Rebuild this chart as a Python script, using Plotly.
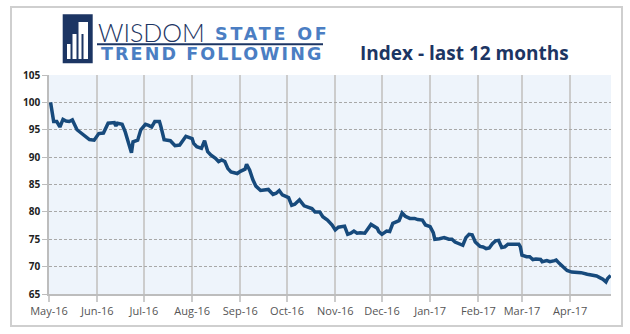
import plotly.graph_objects as go

dates = [
    "2016-05-02", "2016-05-03", "2016-05-04", "2016-05-06", "2016-05-07", "2016-05-08",
    "2016-05-10", "2016-05-12", "2016-05-14", "2016-05-16", "2016-05-19", "2016-05-22",
    "2016-05-24", "2016-05-27", "2016-05-30", "2016-06-02", "2016-06-05", "2016-06-08",
    "2016-06-12", "2016-06-13", "2016-06-14", "2016-06-17", "2016-06-19", "2016-06-21",
    "2016-06-23", "2016-06-24", "2016-06-27", "2016-06-29", "2016-07-02", "2016-07-04",
    "2016-07-06", "2016-07-08", "2016-07-11", "2016-07-12", "2016-07-14", "2016-07-18",
    "2016-07-20", "2016-07-21", "2016-07-24", "2016-07-28", "2016-08-01", "2016-08-02",
    "2016-08-04", "2016-08-07", "2016-08-09", "2016-08-11", "2016-08-13", "2016-08-16",
    "2016-08-18", "2016-08-20", "2016-08-22", "2016-08-24", "2016-08-26", "2016-08-30",
    "2016-09-01", "2016-09-04", "2016-09-05", "2016-09-07", "2016-09-09", "2016-09-11",
    "2016-09-14", "2016-09-17", "2016-09-19", "2016-09-22", "2016-09-24", "2016-09-26",
    "2016-09-28", "2016-10-02", "2016-10-04", "2016-10-06", "2016-10-09", "2016-10-12",
    "2016-10-15", "2016-10-17", "2016-10-19", "2016-10-22", "2016-10-24", "2016-10-27",
    "2016-10-30", "2016-11-01", "2016-11-03", "2016-11-07", "2016-11-09", "2016-11-11",
    "2016-11-13", "2016-11-15", "2016-11-17", "2016-11-20", "2016-11-24", "2016-11-28",
    "2016-11-29", "2016-12-01", "2016-12-04", "2016-12-06", "2016-12-08", "2016-12-10",
    "2016-12-12", "2016-12-14", "2016-12-16", "2016-12-19", "2016-12-22", "2016-12-24",
    "2016-12-27", "2016-12-29", "2017-01-01", "2017-01-03", "2017-01-04", "2017-01-07",
    "2017-01-10", "2017-01-13", "2017-01-15", "2017-01-17", "2017-01-20", "2017-01-22",
    "2017-01-24", "2017-01-26", "2017-01-28", "2017-01-30", "2017-02-02", "2017-02-04",
    "2017-02-06", "2017-02-08", "2017-02-10", "2017-02-12", "2017-02-14", "2017-02-16",
    "2017-02-18", "2017-02-20", "2017-02-23", "2017-02-27", "2017-02-28", "2017-03-01",
    "2017-03-04", "2017-03-06", "2017-03-08", "2017-03-10", "2017-03-13", "2017-03-14",
    "2017-03-17", "2017-03-19", "2017-03-22", "2017-03-23", "2017-03-25", "2017-03-28",
    "2017-03-30", "2017-04-02", "2017-04-05", "2017-04-08", "2017-04-12", "2017-04-15",
    "2017-04-18", "2017-04-20", "2017-04-22", "2017-04-24", "2017-04-25", "2017-04-27",
]

index_values = [
    100.0, 98.0, 96.5, 96.5, 96.0, 95.5,
    96.9, 96.6, 96.5, 96.8, 95.0, 94.3,
    94.0, 93.2, 93.1, 94.3, 94.4, 96.2,
    96.3, 95.7, 96.2, 96.0, 94.6, 92.5,
    90.8, 92.8, 93.1, 95.0, 96.0, 95.8,
    95.5, 96.5, 96.5, 95.5, 93.2, 93.0,
    92.5, 92.1, 92.2, 93.8, 93.4, 92.5,
    91.9, 91.6, 93.0, 91.0, 90.4, 89.8,
    89.2, 89.5, 89.2, 87.9, 87.3, 87.0,
    87.4, 87.8, 88.7, 87.6, 85.9, 84.7,
    83.9, 84.0, 84.1, 83.2, 83.4, 83.9,
    83.1, 82.6, 81.2, 81.4, 82.2, 81.1,
    80.8, 80.6, 80.0, 80.0, 79.1, 78.5,
    77.6, 76.7, 77.2, 77.4, 75.9, 76.1,
    76.5, 76.1, 76.2, 76.1, 77.7, 77.0,
    76.4, 75.9, 76.5, 76.4, 77.9, 78.1,
    78.4, 79.8, 79.2, 78.8, 78.8, 78.6,
    78.5, 77.6, 77.3, 76.2, 75.0, 75.1,
    75.3, 75.0, 75.0, 74.5, 74.2, 73.9,
    75.3, 75.9, 75.8, 74.5, 73.7, 73.6,
    73.3, 73.4, 74.2, 74.7, 74.8, 73.5,
    73.6, 74.1, 74.1, 74.1, 73.6, 72.1,
    71.8, 71.8, 71.3, 71.4, 71.3, 70.9,
    71.1, 70.9, 71.1, 71.2, 70.6, 69.9,
    69.3, 69.0, 68.9, 68.9, 68.6, 68.4,
    68.3, 68.0, 67.7, 67.2, 67.8, 68.4,
]

title_text = "Index - last 12 months"
y_ticks = [65, 70, 75, 80, 85, 90, 95, 100, 105]

W, H = 630, 334
ML, MR, MT, MB = 49, 19, 75, 40
PW, PH = W - ML - MR, H - MT - MB


def px(x):
    return (x - ML) / PW


def py(y):
    return (H - MB - y) / PH


NAVY = "#1c3563"
LIGHTBLUE = "#4b7ec3"

fig = go.Figure()
fig.add_trace(go.Scatter(
    x=dates, y=index_values, mode="lines",
    line=dict(color="#174a7c", width=3.5),
    hoverinfo="x+y", showlegend=False,
))

shapes = [
    dict(type="rect", xref="paper", yref="paper",
         x0=px(11), x1=px(622), y0=py(326), y1=py(7),
         line=dict(color="#cfcfcf", width=2), fillcolor="rgba(0,0,0,0)", layer="below"),
    dict(type="rect", xref="paper", yref="paper",
         x0=px(62.7), x1=px(92.7), y0=py(63.3), y1=py(14.3),
         line=dict(width=0), fillcolor=NAVY),
    dict(type="rect", xref="paper", yref="paper",
         x0=px(67), x1=px(70.5), y0=py(59), y1=py(44),
         line=dict(width=0), fillcolor="white"),
    dict(type="rect", xref="paper", yref="paper",
         x0=px(72.5), x1=px(76.5), y0=py(59), y1=py(34),
         line=dict(width=0), fillcolor="white"),
    dict(type="rect", xref="paper", yref="paper",
         x0=px(78.5), x1=px(88), y0=py(59), y1=py(22),
         line=dict(width=0), fillcolor="white"),
    dict(type="rect", xref="paper", yref="paper",
         x0=px(81.5), x1=px(83.5), y0=py(59), y1=py(34),
         line=dict(width=0), fillcolor=NAVY),
    dict(type="line", xref="paper", yref="paper",
         x0=px(97), x1=px(323), y0=py(44.3), y1=py(44.3),
         line=dict(color=NAVY, width=2)),
]

annotations = [
    dict(text="WISDOM", xref="paper", yref="paper", x=px(96), y=py(31.5),
         xanchor="left", yanchor="middle", showarrow=False,
         font=dict(family="Lato", size=25, color=NAVY, weight=300)),
    dict(text='<span style="letter-spacing:2.8px">STATE OF</span>',
         xref="paper", yref="paper", x=px(213), y=py(34.5),
         xanchor="left", yanchor="middle", showarrow=False,
         font=dict(family="DejaVu Sans", size=17.5, color=LIGHTBLUE, weight="bold")),
    dict(text='<span style="letter-spacing:2.1px">TREND FOLLOWING</span>',
         xref="paper", yref="paper", x=px(99), y=py(54),
         xanchor="left", yanchor="middle", showarrow=False,
         font=dict(family="DejaVu Sans", size=17.5, color=LIGHTBLUE, weight="bold")),
    dict(text=title_text, xref="paper", yref="paper", x=px(464), y=py(52.5),
         xanchor="center", yanchor="middle", showarrow=False,
         font=dict(family="Open Sans", size=19, color=NAVY, weight="bold")),
]

fig.update_layout(
    width=W, height=H,
    margin=dict(l=ML, r=MR, t=MT, b=MB, pad=0),
    paper_bgcolor="white", plot_bgcolor="#eef4fb",
    shapes=shapes, annotations=annotations,
    xaxis=dict(
        type="date", range=["2016-05-01", "2017-04-27 06:00"],
        tick0="2016-05-01", dtick="M1", tickformat="%b-%y",
        showgrid=True, gridcolor="#cccccc", gridwidth=1.5,
        ticks="outside", ticklen=6, tickcolor="#cccccc", tickwidth=1.5,
        showline=True, linecolor="#bdbdbd", linewidth=1.5,
        tickfont=dict(family="Open Sans", size=11, color="#555555"),
        zeroline=False, fixedrange=True,
    ),
    yaxis=dict(
        range=[65, 105], tickvals=y_ticks,
        showgrid=True, gridcolor="#a8a8a8", gridwidth=1, griddash="3px,2px",
        ticks="outside", ticklen=5, tickcolor="#bdbdbd",
        showline=True, linecolor="#bdbdbd", linewidth=1.5,
        tickfont=dict(family="Open Sans", size=10, color="#222222", weight="bold"),
        zeroline=False, fixedrange=True,
    ),
)

fig.write_html("out.html")
